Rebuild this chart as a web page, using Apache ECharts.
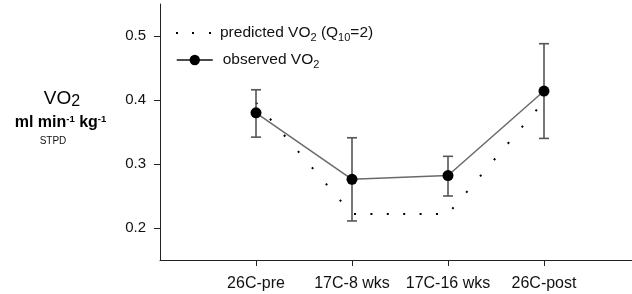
<!DOCTYPE html>
<html><head><meta charset="utf-8">
<script src="https://cdn.jsdelivr.net/npm/echarts@6/dist/echarts.min.js"></script>
<style>html,body{margin:0;padding:0;background:#fff}#c{width:632px;height:294px}</style>
</head><body><div id="c"></div>
<script>
// ---- data ----
const categories = ['26C-pre', '17C-8 wks', '17C-16 wks', '26C-post'];
const observed  = [0.380, 0.276, 0.282, 0.414];
const errLow    = [0.342, 0.211, 0.250, 0.340];
const errHigh   = [0.416, 0.341, 0.312, 0.488];
const predicted = [0.396, 0.222, 0.222, 0.398];
const yTicks    = [0.2, 0.3, 0.4, 0.5];
const xTicks    = [0, 1, 2, 3];

const FONT = '"Liberation Sans", Arial, sans-serif';
const TXT = '#111';
const chart = echarts.init(document.getElementById('c'), null, {renderer: 'canvas'});

// dotted pattern per segment
const segDash = [
  {type: [2, 19.4], offset: 0},
  {type: [2, 14.4], offset: 14.4},
  {type: [2, 19.4], offset: 14.8}
];
const predSeries = segDash.map((d, i) => ({
  type: 'line', name: 'predicted', silent: true, z: 2,
  data: [[i, predicted[i]], [i + 1, predicted[i + 1]]],
  symbol: 'none',
  itemStyle: {color: '#000'},
  lineStyle: {color: '#000', width: 2, type: d.type, dashOffset: d.offset, cap: 'butt'}
}));

const rich = {
  g: {width: 3},
  h: {width: 5},
  a: {fontSize: 15.5, fontFamily: FONT, color: TXT, lineHeight: 20},
  s: {fontSize: 11, fontFamily: FONT, color: TXT, lineHeight: 11, verticalAlign: 'bottom'}
};

chart.setOption({
  animation: false,
  backgroundColor: '#fff',
  grid: {left: 160, top: 4, right: 0, height: 256},
  xAxis: {
    type: 'value', min: -1, max: 3.9167, interval: 1,
    axisLine: {show: true, onZero: false, lineStyle: {color: '#222', width: 1}},
    axisTick: {show: true, length: 6, customValues: xTicks, lineStyle: {color: '#222'}},
    axisLabel: {customValues: xTicks, formatter: v => categories[Math.round(v)] || '',
      fontSize: 16, fontFamily: FONT, color: TXT, margin: 16},
    splitLine: {show: false}
  },
  yAxis: {
    type: 'value', min: 0.15, max: 0.55,
    axisLine: {show: true, onZero: false, lineStyle: {color: '#222', width: 1}},
    axisTick: {show: true, length: 6, customValues: yTicks, lineStyle: {color: '#222'}},
    axisLabel: {customValues: yTicks, formatter: v => v.toFixed(1),
      fontSize: 15, fontFamily: FONT, color: TXT, margin: 14},
    splitLine: {show: false}
  },
  legend: [
    {
      data: [{name: 'predicted', icon: 'path://M0,0M36,12M0,5h2v2h-2zM16,5h2v2h-2zM33,5h2v2h-2z'}],
      left: 176, top: 25, padding: 0, itemWidth: 36, itemHeight: 12, selectedMode: false,
      formatter: () => '{g|}{a|predicted VO}{s|2}{a| (Q}{s|10}{a|=2)}',
      textStyle: {fontSize: 15.5, fontFamily: FONT, color: TXT, rich: rich}
    },
    {
      data: [{name: 'observed', lineStyle: {color: '#111', width: 1.5}}],
      left: 176, top: 52, padding: 0, itemWidth: 36, itemHeight: 13, selectedMode: false,
      formatter: () => '{h|}{a|observed VO}{s|2}',
      textStyle: {fontSize: 15.5, fontFamily: FONT, color: TXT, rich: rich}
    }
  ],
  graphic: [
    {type: 'text', silent: true, style: {
      x: 62, y: 99, align: 'center', verticalAlign: 'middle',
      text: '{a|VO}{s|2}',
      rich: {
        a: {fontSize: 19, fontFamily: FONT, color: TXT, lineHeight: 22},
        s: {fontSize: 16, fontFamily: FONT, color: TXT, lineHeight: 12, verticalAlign: 'bottom'}
      }
    }},
    {type: 'text', silent: true, style: {
      x: 60.5, y: 123, align: 'center', verticalAlign: 'middle',
      text: '{a|ml min}{b|-1}{a| kg}{b|-1}',
      rich: {
        a: {fontSize: 16, fontWeight: 'bold', fontFamily: FONT, color: TXT, lineHeight: 18},
        b: {fontSize: 9.5, fontWeight: 'bold', fontFamily: FONT, color: TXT, lineHeight: 9, verticalAlign: 'top'}
      }
    }},
    {type: 'text', silent: true, style: {
      x: 53, y: 141.5, align: 'center', verticalAlign: 'middle',
      text: 'STPD', fontSize: 10, fontFamily: FONT, fill: TXT
    }}
  ],
  series: predSeries.concat([
    {
      type: 'custom', name: 'err', silent: true, z: 3,
      data: xTicks.map(i => [i, errLow[i], errHigh[i]]),
      renderItem(params, api) {
        const x = api.value(0);
        const lo = api.coord([x, api.value(1)]);
        const hi = api.coord([x, api.value(2)]);
        const hw = 5;
        const style = {stroke: '#555', lineWidth: 1.6};
        return {type: 'group', children: [
          {type: 'line', shape: {x1: lo[0], y1: lo[1], x2: hi[0], y2: hi[1]}, style: style},
          {type: 'line', shape: {x1: lo[0] - hw, y1: lo[1], x2: lo[0] + hw, y2: lo[1]}, style: style},
          {type: 'line', shape: {x1: hi[0] - hw, y1: hi[1], x2: hi[0] + hw, y2: hi[1]}, style: style}
        ]};
      }
    },
    {
      type: 'line', name: 'observed', silent: true, z: 4,
      data: xTicks.map(i => [i, observed[i]]),
      symbol: 'circle', symbolSize: 11, showSymbol: true,
      itemStyle: {color: '#000'},
      lineStyle: {color: '#6a6a6a', width: 1.5}
    }
  ])
});
</script></body></html>
